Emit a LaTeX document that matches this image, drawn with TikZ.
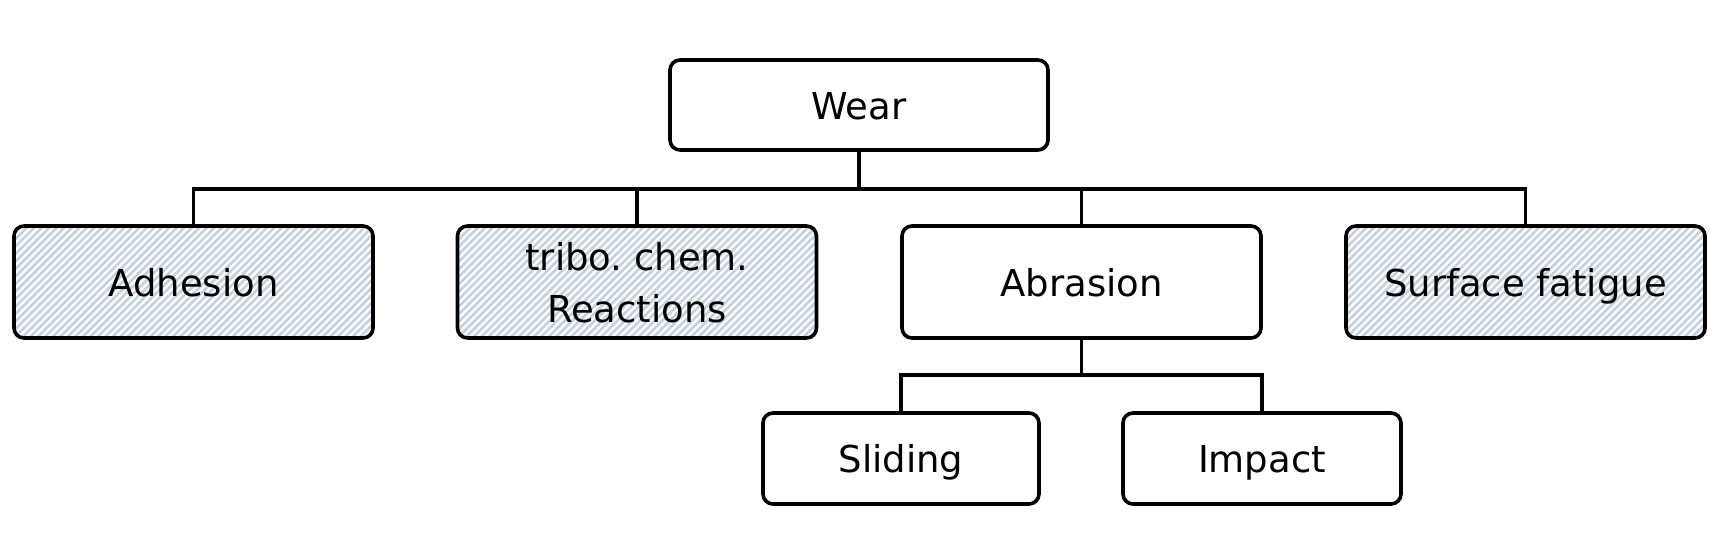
\documentclass[tikz,border=0pt]{standalone}
\usepackage{fontspec}
\setmainfont{DejaVu Sans}
\usetikzlibrary{calc}
\frenchspacing
\definecolor{hatchc}{RGB}{198,209,222}
\tikzset{
  x=1pt, y=-1pt,
  box/.style={draw=black, line width=3.6pt, rounded corners=10pt, fill=white,
    inner sep=0pt, align=center, font=\fontsize{37}{52}\selectfont,
    text height=28pt, text depth=0pt},
  hatched/.style={path picture={
    \foreach \k in {-20,...,60}{
      \draw[hatchc, line width=2.6pt]
        ([xshift=\k*7.5pt]path picture bounding box.south west) -- ++(140pt,140pt);
    }}},
  conn/.style={line width=3.6pt, black}
}
\begin{document}
\begin{tikzpicture}
\useasboundingbox (0,0) rectangle (1721,542);
\node[box, minimum width=378pt, minimum height=90pt] (wear) at (859,105) {Wear};
\node[box, hatched, minimum width=359pt, minimum height=112pt] (adh) at (193.5,282) {Adhesion};
\node[box, hatched, minimum width=359pt, minimum height=112pt, text height=80pt] (tri) at (637,282) {tribo. chem.\\Reactions};
\node[box, minimum width=359pt, minimum height=112pt] (abr) at (1081.5,282) {Abrasion};
\node[box, hatched, minimum width=359pt, minimum height=112pt] (sur) at (1525.5,282) {Surface fatigue};
\node[box, minimum width=276pt, minimum height=91pt] (sli) at (901,458.5) {Sliding};
\node[box, minimum width=278pt, minimum height=91pt] (imp) at (1262,458.5) {Impact};
\coordinate (bus1) at (859,189);
\coordinate (bus2) at (1081.5,375);
\draw[conn] (wear.south) -- (bus1);
\draw[conn] (adh.north) |- (bus1);
\draw[conn] (tri.north) |- (bus1);
\draw[conn] (abr.north) |- (bus1);
\draw[conn] (sur.north) |- (bus1);
\draw[conn] (abr.south) -- (bus2);
\draw[conn] (sli.north) |- (bus2);
\draw[conn] (imp.north) |- (bus2);
\end{tikzpicture}
\end{document}
